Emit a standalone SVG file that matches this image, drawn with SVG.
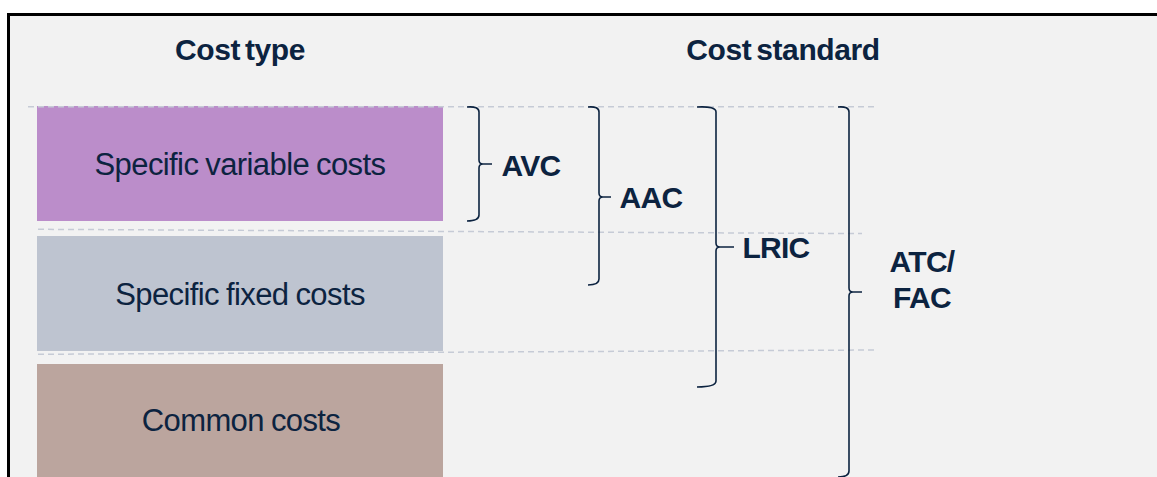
<svg xmlns="http://www.w3.org/2000/svg" width="1157" height="477" viewBox="0 0 1157 477">
  <style>
    .hdr { font-family: "Liberation Sans", Arial, sans-serif; font-weight: bold; font-size: 30px; fill: #0c2340; text-anchor: middle; letter-spacing: -0.4px; word-spacing: -3px; }
    .lbl { font-family: "Liberation Sans", Arial, sans-serif; font-weight: bold; font-size: 30px; fill: #0c2340; text-anchor: middle; letter-spacing: -0.7px; }
    .box { font-family: "Liberation Sans", Arial, sans-serif; font-size: 31px; fill: #0c2340; text-anchor: middle; letter-spacing: -0.6px; word-spacing: -1px; }
    .dash { stroke: #c6cbd6; stroke-width: 1.5; stroke-dasharray: 6 4; fill: none; }
    .brace { stroke: #0c2340; stroke-width: 1.6; fill: none; stroke-linejoin: round; }
  </style>
  <rect x="0" y="0" width="1157" height="477" fill="#ffffff"/>
  <rect x="8" y="14" width="1149" height="463" fill="#f2f2f2"/>
  <path d="M8.5,477 L8.5,14.5 L1157,14.5" fill="none" stroke="#000000" stroke-width="3"/>

  <text class="hdr" x="240" y="60">Cost type</text>
  <text class="hdr" x="783" y="60">Cost standard</text>

  <g id="specific-variable">
    <rect x="37" y="106" width="406" height="115" fill="#bb8dca"/>
    <text class="box" x="240" y="175">Specific variable costs</text>
  </g>
  <g id="specific-fixed">
    <rect x="37" y="236" width="406" height="115" fill="#bec4d0"/>
    <text class="box" x="240" y="305">Specific fixed costs</text>
  </g>
  <g id="common">
    <rect x="37" y="364" width="406" height="113" fill="#bba59e"/>
    <text class="box" x="241" y="431">Common costs</text>
  </g>

  <g id="guides">
    <line class="dash" x1="28" y1="106.8" x2="874" y2="106.8"/>
    <line class="dash" x1="38" y1="229.3" x2="862" y2="233.6"/>
    <line class="dash" x1="38" y1="354.3" x2="878" y2="350"/>
  </g>

  <g id="connectors">
    <path class="brace" d="M467,107 Q479,106 479,112 L479,160 Q479,164 483,164 L492,164 M483,164 Q479,164 479,168 L479,215 Q479,221 467,221"/>
    <path class="brace" d="M588,107 Q599,106 599,112 L599,193 Q599,197 603,197 L611,197 M603,197 Q599,197 599,201 L599,279 Q599,285 588,285"/>
    <path class="brace" d="M697,107 Q716,106 716,112 L716,243 Q716,247 720,247 L734,247 M720,247 Q716,247 716,251 L716,381 Q716,387 697,387"/>
    <path class="brace" d="M838,107 Q849,106 849,112 L849,288 Q849,292 853,292 L862,292 M853,292 Q849,292 849,296 L849,471 Q849,477 838,477"/>
  </g>

  <g id="avc"><text class="lbl" x="531" y="176">AVC</text></g>
  <g id="aac"><text class="lbl" x="651" y="208">AAC</text></g>
  <g id="lric"><text class="lbl" x="776" y="258">LRIC</text></g>
  <g id="atc-fac">
    <text class="lbl" x="922" y="272">ATC/</text>
    <text class="lbl" x="922" y="308">FAC</text>
  </g>
</svg>
